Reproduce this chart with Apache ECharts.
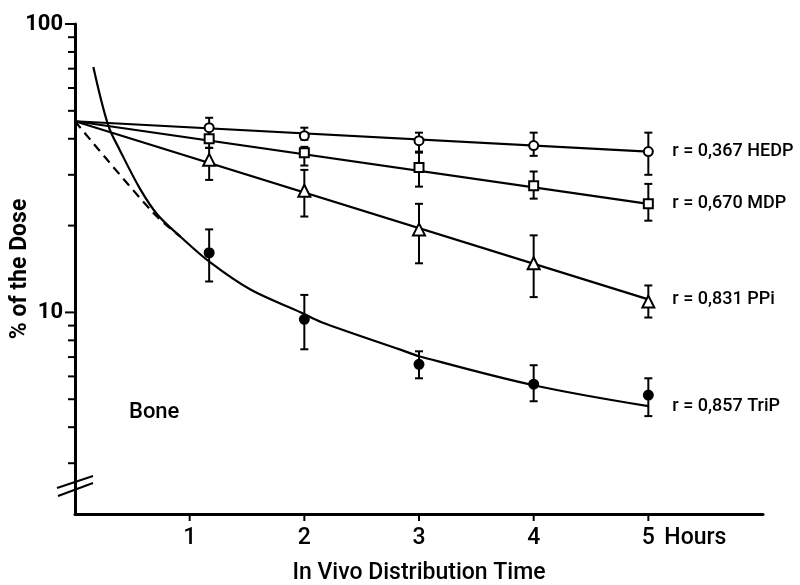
<!DOCTYPE html>
<html><head><meta charset="utf-8">
<script src="https://cdn.jsdelivr.net/npm/echarts@6/dist/echarts.min.js"></script>
<style>html,body{margin:0;padding:0;background:#fff}#c{width:800px;height:585px}</style>
</head><body><div id="c"></div>
<script>
// ---- data ----
const times = [1.17, 2, 3, 4, 5];

const hedp      = [43.7, 41.0, 39.4, 37.9, 36.1];
const hedpLow   = [40.5, 39.7, 36.1, 34.9, 30.0];
const hedpHigh  = [47.3, 43.7, 42.0, 42.0, 42.0];

const mdp       = [40.0, 35.8, 31.8, 27.5, 23.8];
const mdpLow    = [37.2, 32.3, 27.3, 24.8, 20.8];
const mdpHigh   = [43.0, 37.5, 35.8, 30.8, 27.9];

const ppi       = [33.8, 26.4, 19.4, 14.8, 10.9];
const ppiLow    = [28.8, 21.5, 14.8, 11.3, 9.6];
const ppiHigh   = [37.2, 31.2, 23.8, 18.5, 12.4];

const trip      = [16.1, 9.46, 6.61, 5.64, 5.17];
const tripLow   = [12.8, 7.45, 5.91, 4.92, 4.37];
const tripHigh  = [19.4, 11.5, 7.33, 6.56, 5.91];

const hedpFit = [[0, 46], [5, 36.1]];
const mdpFit  = [[0, 46], [5, 23.8]];
const ppiFit  = [[0, 46], [5, 11.1]];
const tripFit = [[0.16, 71], [0.29, 44.5], [0.39, 36.6], [0.57, 26.7], [0.72, 21.8], [0.92, 18.3],
                 [1.18, 14.9], [1.53, 12.0], [1.97, 10.0], [2.15, 9.25], [2.85, 7.4], [3.0, 7.05],
                 [4.0, 5.59], [5.0, 4.73]];
const tripDashed = [[0, 46], [0.68, 22.2], [0.92, 18.3]];

const fitLabels = ['r = 0,367 HEDP', 'r = 0,670 MDP', 'r = 0,831 PPi', 'r = 0,857 TriP'];

const xTicks = [1, 2, 3, 4, 5];
const xTickLabels = ['1', '2', '3', '4', '5'];
const yMajorTicks = [10, 100];
const yMinorTicks = [3, 4, 5, 6, 7, 8, 9, 20, 30, 40, 50, 60, 70, 80, 90];
const yBreak = [2.5];

// ---- chart ----
const FONT = 'Roboto';
const chart = echarts.init(document.getElementById('c'), null, {renderer: 'canvas'});

function errorSeries(lows, highs) {
  return {
    type: 'custom', z: 3, silent: true,
    data: times.map((t, i) => [t, lows[i], highs[i]]),
    encode: {x: 0, y: [1, 2]},
    renderItem(params, api) {
      const x = api.value(0);
      const lo = api.coord([x, api.value(1)]);
      const hi = api.coord([x, api.value(2)]);
      const w = 4, st = {stroke: '#000', lineWidth: 2};
      return {type: 'group', children: [
        {type: 'line', shape: {x1: lo[0], y1: lo[1], x2: hi[0], y2: hi[1]}, style: st},
        {type: 'line', shape: {x1: lo[0] - w, y1: lo[1], x2: lo[0] + w, y2: lo[1]}, style: st},
        {type: 'line', shape: {x1: hi[0] - w, y1: hi[1], x2: hi[0] + w, y2: hi[1]}, style: st}
      ]};
    }
  };
}

function fitSeries(data, label, dashed) {
  const s = {
    type: 'line', data: data, symbol: 'none', smooth: data.length > 2 ? 0.35 : false,
    lineStyle: {color: '#000', width: 2.2, type: dashed ? [9, 6] : 'solid'}, z: 2, silent: true
  };
  if (label) {
    s.endLabel = {show: true, formatter: label, distance: 24, color: '#000',
                  fontFamily: FONT, fontSize: 18, fontWeight: 500};
  }
  return s;
}

function pointSeries(vals, symbol, size, fill) {
  return {
    type: 'scatter', data: times.map((t, i) => [t, vals[i]]), symbol: symbol, symbolSize: size,
    itemStyle: {color: fill, borderColor: '#000', borderWidth: 2, opacity: 1}, z: 5, silent: true
  };
}

const yTickSeries = {
  type: 'custom', silent: true, z: 4, clip: false,
  data: yMajorTicks.map(v => [0, v, 10]).concat(yMinorTicks.map(v => [0, v, 7])),
  encode: {x: 0, y: 1},
  renderItem(params, api) {
    const p = api.coord([0, api.value(1)]);
    return {type: 'line', shape: {x1: p[0] - api.value(2), y1: p[1], x2: p[0], y2: p[1]},
            style: {stroke: '#000', lineWidth: 2}};
  }
};

const xTickSeries = {
  type: 'custom', silent: true, z: 4, clip: false,
  data: xTicks.map(v => [v, 2]),
  encode: {x: 0, y: 1},
  renderItem(params, api) {
    const p = api.coord([api.value(0), api.value(1)]);
    return {type: 'line', shape: {x1: p[0], y1: p[1], x2: p[0], y2: p[1] + 7},
            style: {stroke: '#000', lineWidth: 2}};
  }
};

const breakSeries = {
  type: 'custom', silent: true, z: 6, clip: false,
  data: yBreak.map(v => [0, v]),
  encode: {x: 0, y: 1},
  renderItem(params, api) {
    const p = api.coord([0, api.value(1)]);
    const st = {stroke: '#000', lineWidth: 2};
    return {type: 'group', children: [
      {type: 'line', shape: {x1: p[0] - 18, y1: p[1] + 2, x2: p[0] + 18, y2: p[1] - 10}, style: st},
      {type: 'line', shape: {x1: p[0] - 17, y1: p[1] + 10, x2: p[0] + 18, y2: p[1] - 3}, style: st}
    ]};
  }
};

chart.setOption({
  animation: false,
  backgroundColor: '#fff',
  grid: {left: 75, right: 37, top: 24, bottom: 71, containLabel: false, outerBoundsMode: 'none'},
  xAxis: {
    type: 'value', min: 0, max: 6, interval: 1,
    axisLine: {lineStyle: {color: '#000', width: 3}},
    axisTick: {show: false},
    splitLine: {show: false},
    axisLabel: {
      margin: 13, color: '#000', fontFamily: FONT, fontSize: 23, fontWeight: 500,
      formatter: v => { const i = xTicks.indexOf(v); return i >= 0 ? xTickLabels[i] : ''; }
    },
    name: 'In Vivo Distribution Time', nameLocation: 'middle', nameGap: 48, nameMoveOverlap: false,
    nameTextStyle: {color: '#000', fontFamily: FONT, fontSize: 23, fontWeight: 500}
  },
  yAxis: {
    type: 'log', logBase: 10, min: 2, max: 100,
    axisLine: {lineStyle: {color: '#000', width: 3}},
    axisTick: {show: false},
    splitLine: {show: false},
    axisLabel: {
      margin: 12, color: '#000', fontFamily: FONT, fontSize: 22, fontWeight: 'bold',
      formatter: v => { const m = yMajorTicks.find(t => Math.abs(t - v) / t < 0.01); return m ? String(m) : ''; }
    },
    name: '% of the Dose', nameLocation: 'middle', nameGap: 43, nameRotate: 90, nameMoveOverlap: false,
    nameTextStyle: {color: '#000', fontFamily: FONT, fontSize: 23, fontWeight: 'bold'}
  },
  series: [
    yTickSeries, xTickSeries, breakSeries,
    fitSeries(hedpFit, fitLabels[0]),
    fitSeries(mdpFit, fitLabels[1]),
    fitSeries(ppiFit, fitLabels[2]),
    fitSeries(tripFit, fitLabels[3]),
    fitSeries(tripDashed, null, true),
    errorSeries(hedpLow, hedpHigh),
    errorSeries(mdpLow, mdpHigh),
    errorSeries(ppiLow, ppiHigh),
    errorSeries(tripLow, tripHigh),
    pointSeries(hedp, 'circle', 9, '#fff'),
    pointSeries(mdp, 'rect', 9, '#fff'),
    pointSeries(ppi, 'triangle', 12, '#fff'),
    pointSeries(trip, 'circle', 9, '#000')
  ]
});

const p5 = chart.convertToPixel({gridIndex: 0}, [5, 2]);
chart.setOption({
  graphic: [
    {type: 'text', left: p5[0] + 16, top: p5[1] + 13,
     style: {text: 'Hours', fill: '#000', font: '500 23px ' + FONT}},
    {type: 'text', left: 129, top: 401,
     style: {text: 'Bone', fill: '#000', font: '500 22px ' + FONT}}
  ]
});
</script></body></html>
